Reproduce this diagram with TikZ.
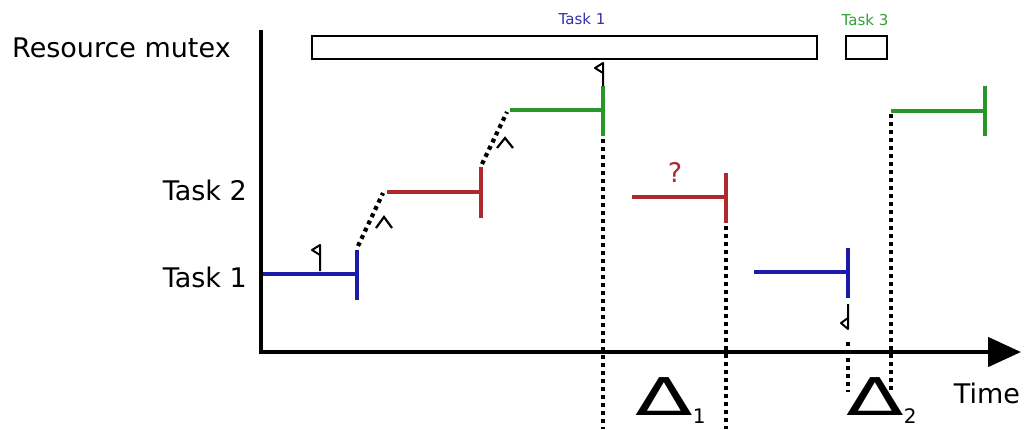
\documentclass[tikz,border=0pt]{standalone}
\usepackage{fontspec}
\setmainfont{DejaVu Sans}
\usetikzlibrary{arrows.meta}
\definecolor{tblue}{RGB}{28,28,170}
\definecolor{tred}{RGB}{175,40,45}
\definecolor{tgreen}{RGB}{40,150,40}
\definecolor{lblue}{RGB}{50,50,175}
\definecolor{lgreen}{RGB}{50,160,50}

\begin{document}
\begin{tikzpicture}[x=1pt,y=-1pt,
  axis/.style={line width=4.6pt},
  seg/.style={line width=4.2pt},
  dots/.style={line width=4.2pt, dash pattern=on 4pt off 4pt},
  lbl/.style={font=\fontsize{27}{32}\selectfont, inner sep=0pt},
  small/.style={font=\fontsize{15}{17}\selectfont, inner sep=0pt},
  mutexbox/.style={draw, line width=2.4pt, inner sep=0pt, anchor=north west},
  caret/.style={line width=2.2pt},
  flagmark/.style={line width=2pt, line join=round},
  delta/.style={font=\fontsize{52}{52}\selectfont, inner sep=0pt, anchor=base west}
]
\useasboundingbox (0,0) rectangle (1027,429);

% time axes
\coordinate (ytop) at (261,30);
\coordinate (ybot) at (261,354);
\coordinate (xstart) at (259,352);
\coordinate (xend) at (1021,352);
\draw[axis] (ytop) -- (ybot);
\draw[axis, -{Triangle[length=33pt,width=29pt]}] (xstart) -- (xend);

% row labels
\node[lbl, anchor=base west] (lmutex) at (12,57) {Resource mutex};
\node[lbl, anchor=base east] (ltwo) at (247,200) {Task 2};
\node[lbl, anchor=base east] (lone) at (247,287) {Task 1};
\node[lbl, anchor=base] (ltime) at (987,403) {Time};

% mutex ownership
\node[mutexbox, minimum width=505pt, minimum height=23pt] (mx1) at (311,35) {};
\node[mutexbox, minimum width=41pt, minimum height=23pt] (mx3) at (845,35) {};
\node[small, text=lblue, anchor=base] (mx1lbl) at (582,24) {Task 1};
\node[small, text=lgreen, anchor=base] (mx3lbl) at (865,25) {Task 3};

% execution segments
\coordinate (b1s) at (263,274);  \coordinate (b1e) at (357,274);
\coordinate (b1t) at (357,250);  \coordinate (b1b) at (357,300);
\coordinate (r1s) at (387,192);  \coordinate (r1e) at (481,192);
\coordinate (r1t) at (481,167);  \coordinate (r1b) at (481,218);
\coordinate (g1s) at (510,110);  \coordinate (g1e) at (603,110);
\coordinate (g1t) at (603,86);   \coordinate (g1b) at (603,136);
\coordinate (r2s) at (632,197);  \coordinate (r2e) at (726,197);
\coordinate (r2t) at (726,173);  \coordinate (r2b) at (726,223);
\coordinate (b2s) at (754,272);  \coordinate (b2e) at (848,272);
\coordinate (b2t) at (848,248);  \coordinate (b2b) at (848,298);
\coordinate (g2s) at (891,111);  \coordinate (g2e) at (985,111);
\coordinate (g2t) at (985,86);   \coordinate (g2b) at (985,136);

\draw[seg, tblue] (b1s) -- (b1e) (b1t) -- (b1b);
\draw[seg, tred] (r1s) -- (r1e) (r1t) -- (r1b);
\draw[seg, tgreen] (g1s) -- (g1e) (g1t) -- (g1b);
\draw[seg, tred] (r2s) -- (r2e) (r2t) -- (r2b);
\draw[seg, tblue] (b2s) -- (b2e) (b2t) -- (b2b);
\draw[seg, tgreen] (g2s) -- (g2e) (g2t) -- (g2b);

% dotted transitions and markers
\coordinate (d1a) at (358,246); \coordinate (d1b) at (383,193);
\coordinate (d2a) at (482,164); \coordinate (d2b) at (507,112);
\draw[dots] (d1a) -- (d1b);
\draw[dots] (d2a) -- (d2b);
\coordinate (v1) at (603,429);
\coordinate (v2) at (726,429);
\coordinate (v3a) at (848,342); \coordinate (v3b) at (848,392);
\coordinate (v4a) at (891,114); \coordinate (v4b) at (891,390);
\draw[dots] (603,139) -- (v1);
\draw[dots] (726,226) -- (v2);
\draw[dots] (v3a) -- (v3b);
\draw[dots] (v4a) -- (v4b);

% carets
\draw[caret] (376,228) -- (384,217) -- (392,228);
\draw[caret] (497,148) -- (505,138) -- (513,148);

% flags
\draw[flagmark] (320,271) -- (320,245) -- (312,250) -- (320,255);
\draw[flagmark] (603,86) -- (603,63) -- (595,68) -- (603,73);
\draw[flagmark] (848,304) -- (848,329) -- (841,323) -- (848,318);

% question mark
\node[lbl, text=tred, anchor=base] (qm) at (675,182) {?};

% deltas
\node[delta] (del1) at (635,415) {\scalebox{1.62}[1]{Δ}\raisebox{-8pt}{\fontsize{20}{20}\selectfont 1}};
\node[delta] (del2) at (846,415) {\scalebox{1.62}[1]{Δ}\raisebox{-8pt}{\fontsize{20}{20}\selectfont 2}};
\end{tikzpicture}
\end{document}
